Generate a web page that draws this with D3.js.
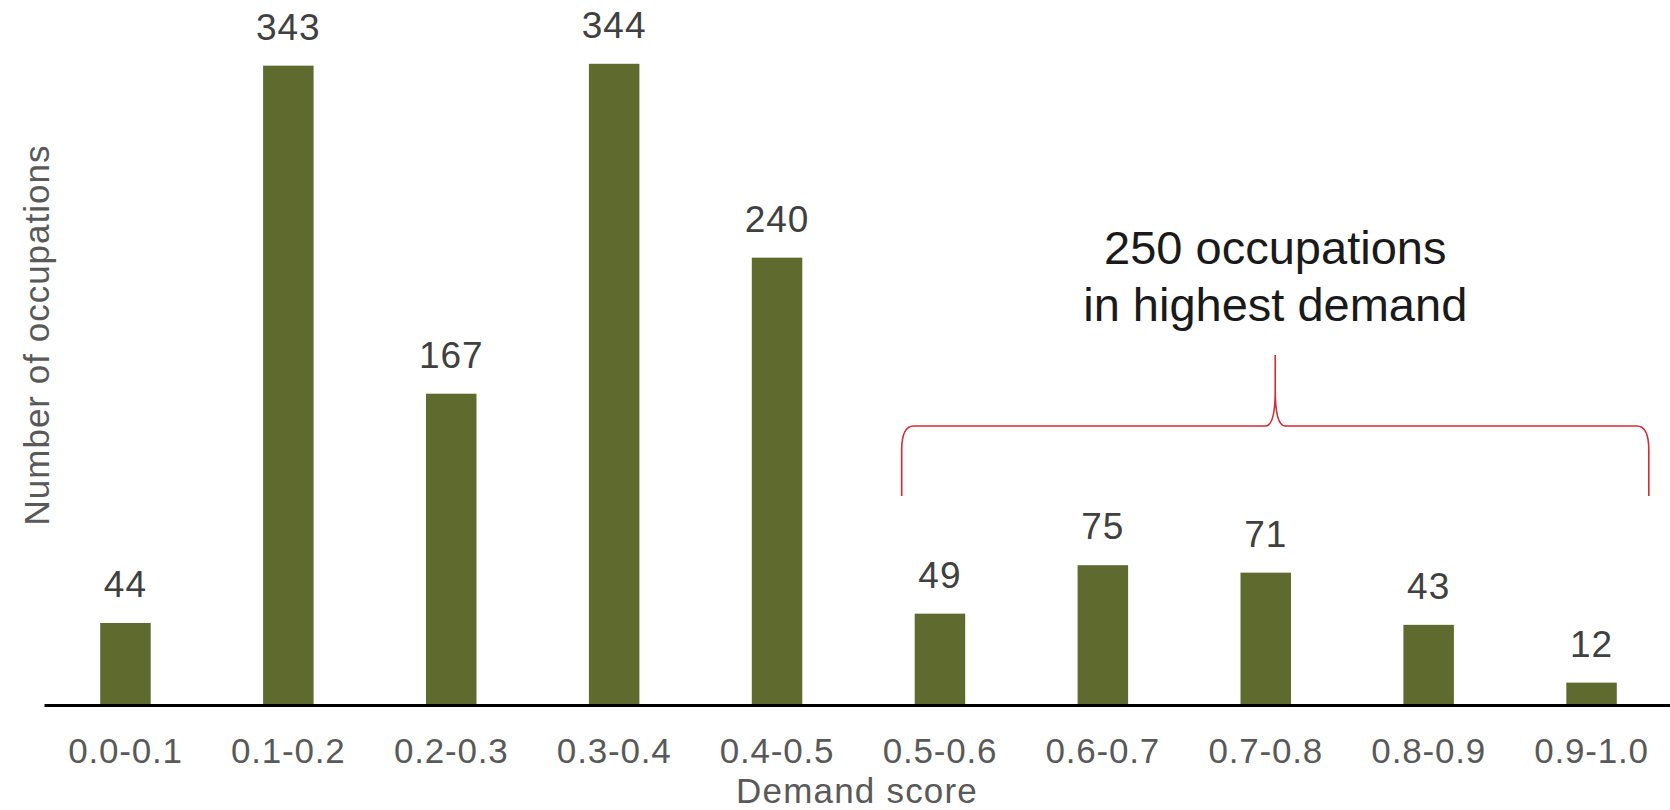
<!DOCTYPE html>
<html>
<head>
<meta charset="utf-8">
<script src="https://cdn.jsdelivr.net/npm/d3@7/dist/d3.min.js"></script>
<style>
  html, body { margin: 0; padding: 0; background: #ffffff; }
  svg { display: block; font-family: "Liberation Sans", Arial, sans-serif; }
</style>
</head>
<body>
<svg id="chart" width="1670" height="810"></svg>
<script>
// Occupations per demand-score bucket
const categories = ["0.0-0.1", "0.1-0.2", "0.2-0.3", "0.3-0.4", "0.4-0.5",
                    "0.5-0.6", "0.6-0.7", "0.7-0.8", "0.8-0.9", "0.9-1.0"];
const counts = [44, 343, 167, 344, 240, 49, 75, 71, 43, 12];

// Buckets grouped under the highlight brace
const highlightFrom = "0.5-0.6";
const highlightTo = "0.9-1.0";
const highlightLines = ["250 occupations", "in highest demand"];

const W = 1670, H = 810;
const baseline = 705;

const svg = d3.select("#chart");

const x = d3.scaleBand()
  .domain(categories)
  .range([44, 1673])
  .paddingInner(0.69)
  .paddingOuter(0.345);

const y = d3.scaleLinear()
  .domain([0, 350])
  .range([baseline, baseline - 350 * 1.864]);

// Bars
svg.append("g")
  .selectAll("rect")
  .data(categories)
  .join("rect")
  .attr("x", d => x(d))
  .attr("width", x.bandwidth())
  .attr("y", (d, i) => y(counts[i]))
  .attr("height", (d, i) => y(0) - y(counts[i]))
  .attr("fill", "#5f6a2e");

// Value labels above bars
svg.append("g")
  .selectAll("text")
  .data(categories)
  .join("text")
  .attr("x", d => x(d) + x.bandwidth() / 2)
  .attr("y", (d, i) => y(counts[i]) - 26)
  .attr("text-anchor", "middle")
  .attr("font-size", 37)
  .attr("letter-spacing", 1)
  .attr("fill", "#404040")
  .text((d, i) => counts[i]);

// X axis
const xAxis = svg.append("g")
  .attr("transform", `translate(0,${baseline})`)
  .call(d3.axisBottom(x).tickSize(0).tickSizeOuter(0).tickPadding(33));
xAxis.select(".domain")
  .attr("stroke", "#000")
  .attr("stroke-width", 3);
xAxis.selectAll(".tick text")
  .attr("font-size", 35)
  .attr("letter-spacing", 0.8)
  .attr("fill", "#595959")
  .attr("font-family", "Liberation Sans, Arial, sans-serif")
  .attr("dy", "0.71em");

// Axis titles
svg.append("text")
  .attr("x", x(categories[4]) + x.bandwidth() / 2 + 80)
  .attr("y", 803)
  .attr("text-anchor", "middle")
  .attr("font-size", 35)
  .attr("letter-spacing", 1.2)
  .attr("fill", "#595959")
  .text("Demand score");

svg.append("text")
  .attr("transform", `translate(49,335) rotate(-90)`)
  .attr("text-anchor", "middle")
  .attr("font-size", 35)
  .attr("letter-spacing", 1)
  .attr("fill", "#595959")
  .text("Number of occupations");

// Highlight brace over the top buckets
const bL = x(highlightFrom) - 13;
const bR = x(highlightTo) + x.bandwidth() + 32;
const bM = (bL + bR) / 2;
const yEnd = 496, yBar = 426, yTip = 355;
const r = 12, rv = 24, tipW = 10, tipH = 36;

const p = d3.path();
p.moveTo(bL, yEnd);
p.lineTo(bL, yBar + rv);
p.quadraticCurveTo(bL, yBar, bL + r, yBar);
p.lineTo(bM - tipW, yBar);
p.quadraticCurveTo(bM, yBar, bM, yBar - tipH);
p.lineTo(bM, yTip);
p.moveTo(bM, yBar - tipH);
p.quadraticCurveTo(bM, yBar, bM + tipW, yBar);
p.lineTo(bR - r, yBar);
p.quadraticCurveTo(bR, yBar, bR, yBar + rv);
p.lineTo(bR, yEnd);

svg.append("path")
  .attr("d", p.toString())
  .attr("fill", "none")
  .attr("stroke", "#d42a30")
  .attr("stroke-width", 1.6);

// Brace annotation text
svg.append("text")
  .attr("x", bM)
  .attr("text-anchor", "middle")
  .attr("font-size", 47)
  .attr("fill", "#1a1a1a")
  .selectAll("tspan")
  .data(highlightLines)
  .join("tspan")
  .attr("x", bM)
  .attr("y", (d, i) => 264 + i * 57)
  .text(d => d);
</script>
</body>
</html>
